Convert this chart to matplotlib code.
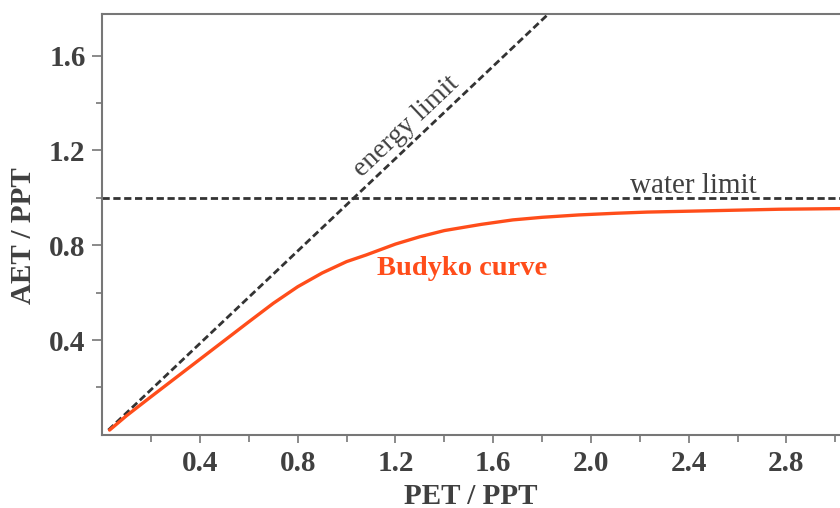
import matplotlib
matplotlib.use('Agg')
import matplotlib.pyplot as plt

# Daten
pet = [0.03, 0.1, 0.2, 0.3, 0.4, 0.5, 0.6, 0.7, 0.8, 0.9, 1.0, 1.08, 1.2, 1.3, 1.4,
       1.55, 1.68, 1.8, 1.95, 2.1, 2.23, 2.5, 2.77, 3.05]
aet = [0.02, 0.081, 0.161, 0.240, 0.319, 0.398, 0.477, 0.555, 0.625, 0.683, 0.731, 0.759,
       0.805, 0.836, 0.862, 0.888, 0.907, 0.918, 0.928, 0.935, 0.940, 0.946, 0.952, 0.955]

energy_x = [0.025, 1.85]
energy_y = [0.02, 1.80]
water_x = [0.0, 3.1]
water_y = [1.0, 1.0]

xticks = [0.4, 0.8, 1.2, 1.6, 2.0, 2.4, 2.8]
xtick_labels = ['0.4', '0.8', '1.2', '1.6', '2.0', '2.4', '2.8']
xminor = [0.2, 0.6, 1.0, 1.4, 1.8, 2.2, 2.6, 3.0]
yticks = [0.4, 0.8, 1.2, 1.6]
ytick_labels = ['0.4', '0.8', '1.2', '1.6']
yminor = [0.2, 0.6, 1.0, 1.4]

TEXT = '#404040'
AXIS = '#777777'
ORANGE = '#ff4d1a'

plt.rcParams['font.family'] = ['Liberation Serif', 'DejaVu Serif']

fig = plt.figure(figsize=(8.4, 5.08), dpi=100)
ax = fig.add_axes([0.1217, 0.1441, 0.8783, 0.8283])

dash = (0, (2.6, 1.3))
ax.plot(energy_x, energy_y, color='#333333', lw=2.0, linestyle=dash)
ax.plot(water_x, water_y, color='#333333', lw=2.0, linestyle=dash)
ax.plot(pet, aet, color=ORANGE, lw=2.4, solid_capstyle='round', solid_joinstyle='round')

ax.set_xlim(0, 3.019)
ax.set_ylim(0, 1.776)

ax.text(1.243, 1.299, 'energy limit', rotation=43.4, ha='center', va='center',
        fontsize=20, color=TEXT, rotation_mode='anchor')
ax.text(2.42, 1.05, 'water limit', ha='center', va='center', fontsize=21, color=TEXT)
ax.text(1.471, 0.70, 'Budyko curve', ha='center', va='center', fontsize=20.5,
        fontweight='bold', color=ORANGE)

ax.set_xticks(xticks)
ax.set_xticklabels(xtick_labels)
ax.set_xticks(xminor, minor=True)
ax.set_yticks(yticks)
ax.set_yticklabels(ytick_labels)
ax.set_yticks(yminor, minor=True)

ax.tick_params(axis='both', which='both', direction='out', color=AXIS, width=1.2,
               labelsize=21, labelcolor=TEXT, pad=5)
ax.tick_params(axis='y', which='major', length=7)
ax.tick_params(axis='y', which='minor', length=4)
ax.tick_params(axis='x', which='major', length=6)
ax.tick_params(axis='x', which='minor', length=5)
for lab in ax.get_xticklabels() + ax.get_yticklabels():
    lab.set_fontweight('bold')

for side in ['left', 'bottom', 'top']:
    ax.spines[side].set_color(AXIS)
    ax.spines[side].set_linewidth(1.5)
ax.spines['right'].set_visible(False)

ax.set_xlabel('PET / PPT', fontsize=21, fontweight='bold', color=TEXT, labelpad=4)
ax.set_ylabel('AET / PPT', fontsize=21, fontweight='bold', color=TEXT)
ax.yaxis.set_label_coords(-0.088, 0.474)

fig.savefig('out.png', dpi=100)
